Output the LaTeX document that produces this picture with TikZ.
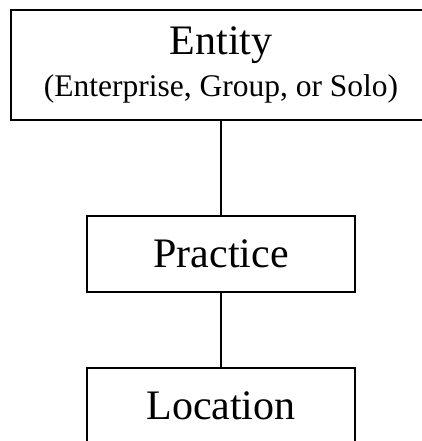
\documentclass[tikz,border=0pt]{standalone}
\usepackage{fontspec}
\setmainfont{Liberation Serif}
\usetikzlibrary{positioning}

\begin{document}
\begin{tikzpicture}[
            x=1pt, y=-1pt,
            font=\fontsize{42}{48}\selectfont,
            level/.style={draw, line width=2pt, align=center, inner sep=0pt, minimum width=268pt, minimum height=76pt},
            top/.style={level, minimum width=420pt, minimum height=110pt},
            link/.style={line width=2pt}
        ]
            \useasboundingbox (0,0) rectangle (422,441);
            \node[top] (entity) at (221,65) {Entity\\[-6pt]{\fontsize{31.5}{40}\selectfont (Enterprise, Group, or Solo)}};
            \node[level] (practice) at (221,254) {Practice};
            \node[level] (location) at (221,406) {Location};

            \draw[link] (entity.south) -- (practice.north);
            \draw[link] (practice.south) -- (location.north);
        \end{tikzpicture}
\end{document}
